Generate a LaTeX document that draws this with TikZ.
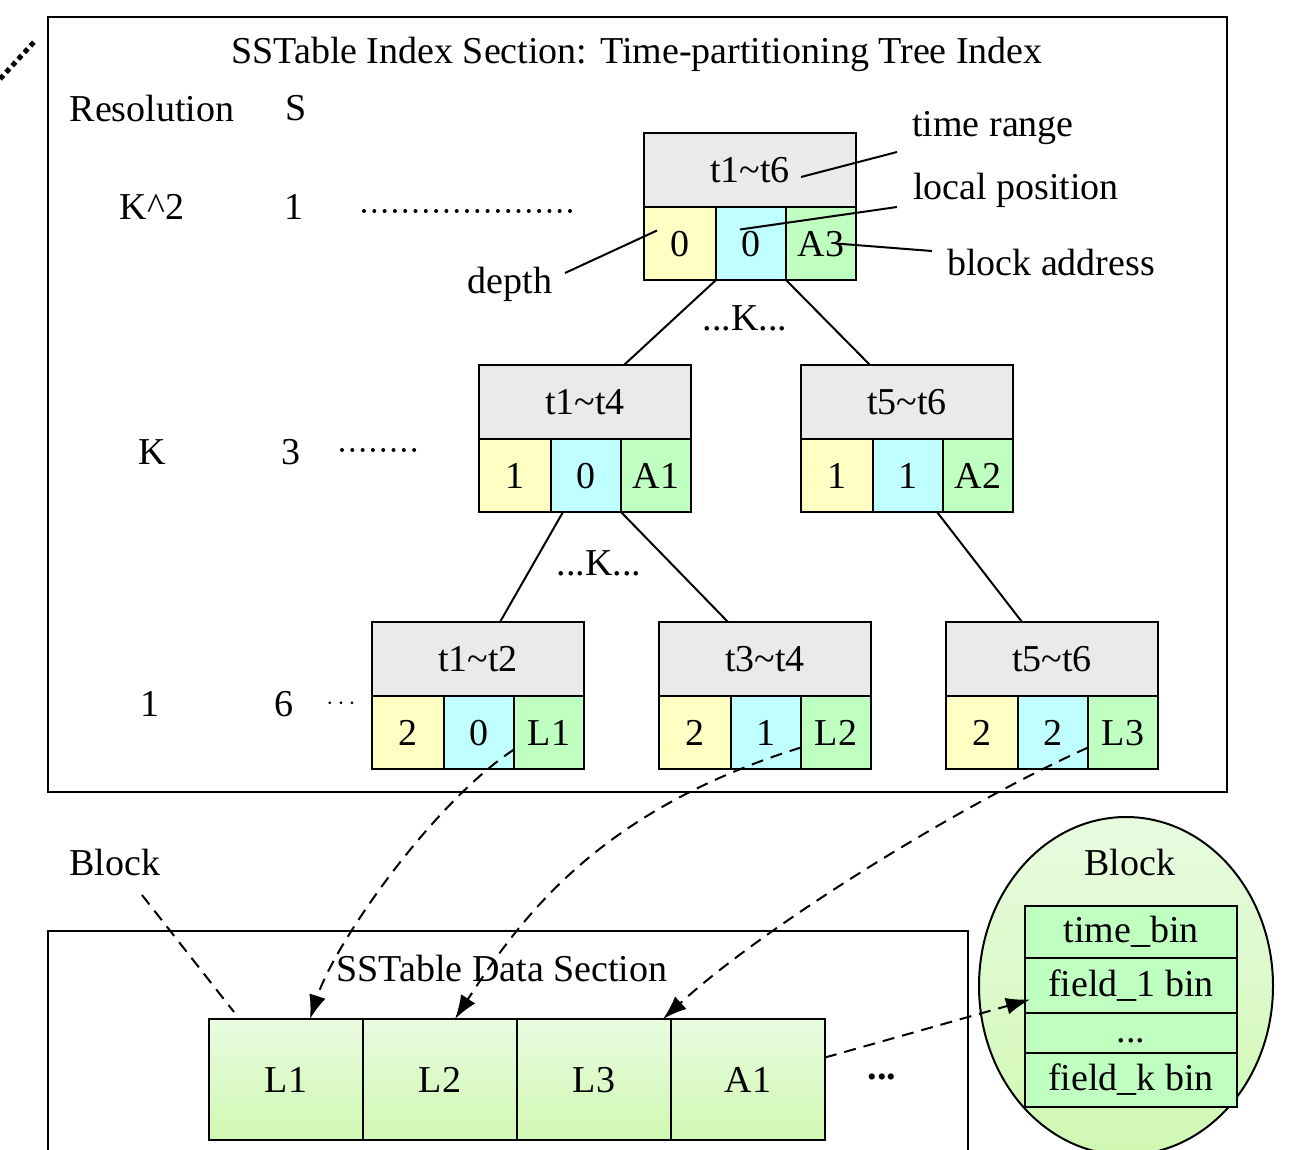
\documentclass[tikz,border=0pt]{standalone}
\usepackage{fontspec}
\setmainfont{Liberation Serif}
\usetikzlibrary{positioning,calc,arrows.meta,shapes.geometric}

\definecolor{hdrgray}{RGB}{234,234,234}
\definecolor{dyellow}{RGB}{255,255,196}
\definecolor{pcyan}{RGB}{191,255,255}
\definecolor{agreen}{RGB}{191,255,191}
\definecolor{blktop}{RGB}{232,251,224}
\definecolor{blkbot}{RGB}{208,248,178}

\tikzset{
  cell/.style={draw, line width=2.4pt, inner sep=0pt, outer sep=0pt,
    minimum height=73pt, text height=25pt, text depth=0pt},
  hdr/.style={cell, fill=hdrgray, minimum width=212pt, minimum height=74pt},
  dcell/.style={cell, fill=dyellow, minimum width=72pt},
  pcell/.style={cell, fill=pcyan, minimum width=70pt},
  acell/.style={cell, fill=agreen, minimum width=70pt},
  dblk/.style={cell, top color=blktop, bottom color=blkbot,
    minimum width=154pt, minimum height=121pt},
  bin/.style={draw, line width=2.2pt, fill=agreen, inner sep=0pt, outer sep=0pt,
    minimum width=212pt},
  sect/.style={line width=2pt},
  edge/.style={line width=2pt},
  ann/.style={line width=2pt},
  dotrow/.style={line width=4pt, line cap=round, dash pattern=on 0pt off 10.3pt},
  dline/.style={line width=2pt, dash pattern=on 12pt off 8pt},
  arr/.style={dline, -{Latex[length=24pt,width=17pt]}}
}

% name, top-left corner, time range, depth, local position, block address
\newcommand{\tsnode}[6]{%
  \node[hdr, anchor=north west] (#1) at (#2) {#3};
  \node[dcell, anchor=north west] (#1d) at (#1.south west) {#4};
  \node[pcell, anchor=north west] (#1p) at (#1d.north east) {#5};
  \node[acell, anchor=north west] (#1a) at (#1p.north east) {#6};
}

\begin{document}
\begin{tikzpicture}[x=1pt, y=-1pt, font=\fontsize{38}{44}\selectfont]
  \useasboundingbox (0,0) rectangle (1303,1149);

  % index section
  \draw[sect] (48,17) rectangle (1227,792);
  \draw[line width=5pt, dash pattern=on 5pt off 4pt] (0,79) -- (34,42);
  \node (title) at (637,54) {SSTable Index Section: Time-partitioning Tree Index};

  \node (res) at (152,108) {Resolution};
  \node (s) at (296,108) {S};
  \node (rk2) at (152,207) {K\textasciicircum 2};
  \node (s1) at (294,207) {1};
  \draw[dotrow] (364,211) -- (580,211);
  \node (rk) at (152,452) {K};
  \node (s3) at (291,452) {3};
  \draw[dotrow] (342,450) -- (423,450);
  \node (r1) at (150,704) {1};
  \node (s6) at (284,704) {6};
  \node (dots6) at (341,704) {$\cdots$};

  \tsnode{r}{644,133}{t1\string~t6}{0}{0}{A3}
  \tsnode{a}{479,365}{t1\string~t4}{1}{0}{A1}
  \tsnode{b}{801,365}{t5\string~t6}{1}{1}{A2}
  \tsnode{la}{372,622}{t1\string~t2}{2}{0}{L1}
  \tsnode{lb}{659,622}{t3\string~t4}{2}{1}{L2}
  \tsnode{lc}{946,622}{t5\string~t6}{2}{2}{L3}

  \draw[edge] (rd.south east) -- ([xshift=145pt]a.north west);
  \draw[edge] (rp.south east) -- ([xshift=69pt]b.north west);
  \draw[edge] ([xshift=12pt]ad.south east) -- ([xshift=128pt]la.north west);
  \draw[edge] (ap.south east) -- ([xshift=69pt]lb.north west);
  \draw[edge] ([xshift=-6pt]bp.south east) -- ([xshift=76pt]lc.north west);
  \node (k1) at (745,318) {...K...};
  \node (k2) at (599,563) {...K...};

  \node (trng) at (993,128) {time range};
  \node (lpos) at (1016,190) {local position};
  \node (badr) at (1051,262) {block address};
  \node (dep) at (510,284) {depth};
  \draw[ann] ([shift={(51,7)}]r.center) -- ([shift={(-96,24)}]trng.center);
  \draw[ann] ([shift={(-11,-14)}]rp.center) -- ([shift={(-119,17)}]lpos.center);
  \draw[ann] ([shift={(15,0)}]ra.center) -- ([shift={(-119,-11)}]badr.center);
  \draw[ann] ([shift={(-23,-13)}]rd.center) -- ([shift={(55,-11)}]dep.center);

  % data section
  \draw[sect] (48,1160) |- (968,931) -- (968,1160);
  \node (dtitle) at (502,968) {SSTable Data Section};
  \node[dblk, anchor=north west] (d1) at (209,1019) {L1};
  \node[dblk, right=0pt of d1] (d2) {L2};
  \node[dblk, right=0pt of d2] (d3) {L3};
  \node[dblk, right=0pt of d3] (d4) {A1};
  \node (more) at (882,1077) {\textbf{...}};
  \node (blab) at (115,862) {Block};
  \draw[dline] ([shift={(27,33)}]blab.center) -- ([shift={(25,-7)}]d1.north west);

  % block layout
  \node[ellipse, draw, line width=2pt, minimum width=294pt, minimum height=338pt,
    top color=blktop, bottom color=blkbot] (blk) at (1126,986) {};
  \node (btitle) at (1130,862) {Block};
  \node[bin, anchor=north west, minimum height=52pt] (bin1) at (1025,906) {time\_bin};
  \node[bin, below=0pt of bin1, minimum height=55pt] (bin2) {field\_1 bin};
  \node[bin, below=0pt of bin2, minimum height=40pt, text height=18pt, text depth=0pt] (bin3) {...};
  \node[bin, below=0pt of bin3, minimum height=54pt] (bin4) {field\_k bin};

  \draw[arr] ([yshift=-17pt]laa.west) .. controls (434,802) and (335,942) .. ([xshift=101pt]d1.north west);
  \draw[arr] ([yshift=-15pt]lba.west) .. controls (600,810) and (522,916) .. ([xshift=92pt]d2.north west);
  \draw[arr] ([yshift=-15pt]lca.west) .. controls (950,810) and (760,930) .. ([xshift=-8pt]d4.north west);
  \draw[arr] ([yshift=22pt]d4.east) -- ([shift={(5,14)}]bin2.west);
\end{tikzpicture}
\end{document}
